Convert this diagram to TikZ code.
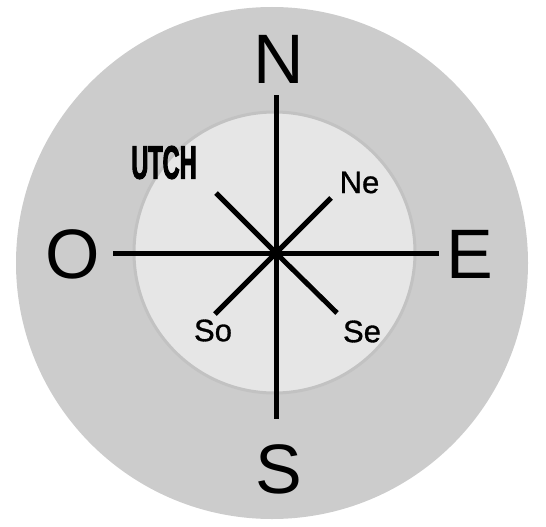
\documentclass[tikz,border=0pt]{standalone}
\usepackage{fontspec}
\setmainfont{Liberation Sans}
\newfontfamily\utchfont[FakeStretch=0.5,FakeBold=2]{Liberation Sans Bold}
\newfontfamily\medfont[FakeBold=1]{Liberation Sans}
\definecolor{outerc}{HTML}{CCCCCC}
\definecolor{innerc}{HTML}{E6E6E6}
\definecolor{innerb}{HTML}{C2C2C2}
\tikzset{
  ray/.style={line width=5pt, black},
  bigl/.style={inner sep=0pt, font=\fontsize{70}{80}\selectfont},
  smalll/.style={inner sep=0pt, font=\medfont\fontsize{31}{36}\selectfont},
  utchl/.style={inner sep=0pt, font=\utchfont\fontsize{47}{52}\selectfont}
}
\begin{document}
\begin{tikzpicture}[x=1pt,y=-1pt]
\useasboundingbox (0,0) rectangle (546,527);
\fill[outerc] (272,263) circle[radius=256];
\draw[innerb, fill=innerc, line width=3pt] (274.5,252.5) circle[radius=140.5];
\coordinate (c) at (276,253);
\coordinate (nend) at (276,94.5);
\coordinate (send) at (276,418.5);
\coordinate (wend) at (113,253);
\coordinate (eend) at (439,253);
\coordinate (nwend) at (216,193);
\coordinate (neend) at (331,198);
\coordinate (swend) at (215,314);
\coordinate (seend) at (337,313);
\draw[ray] (c) -- (nend);
\draw[ray] (c) -- (send);
\draw[ray] (c) -- (wend);
\draw[ray] (c) -- (eend);
\draw[ray] (c) -- (nwend);
\draw[ray] (c) -- (neend);
\draw[ray] (c) -- (swend);
\draw[ray] (c) -- (seend);
\node[bigl] (N) at (279,59.5) {N};
\node[bigl] (S) at (279,469.5) {S};
\node[bigl] (O) at (72.5,254) {O};
\node[bigl] (E) at (470,254.5) {E};
\node[smalll] (Ne) at (359.5,182.5) {Ne};
\node[smalll] (So) at (213,330.5) {So};
\node[smalll] (Se) at (362,331.5) {Se};
\node[utchl] (U) at (164,162.5) {UTCH};
\end{tikzpicture}
\end{document}
